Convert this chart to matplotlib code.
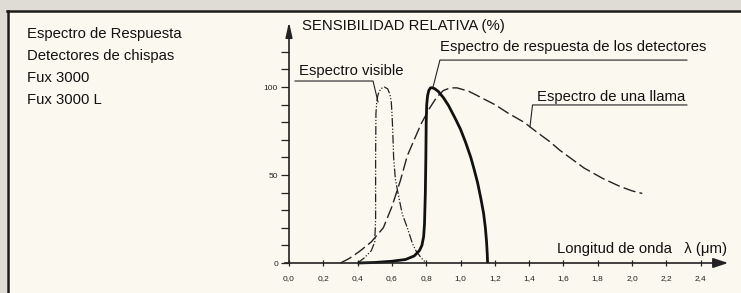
import numpy as np
import matplotlib
matplotlib.use('Agg')
import matplotlib.pyplot as plt

# curva del espectro visible
vis_x = [0.40, 0.44, 0.48, 0.50, 0.505, 0.505, 0.507, 0.512, 0.52, 0.535, 0.555, 0.575, 0.588,
         0.596, 0.60, 0.605, 0.61, 0.62, 0.635, 0.66, 0.69, 0.72, 0.74, 0.77, 0.80]
vis_y = [0, 3, 7, 12, 25, 60, 85, 92, 96, 99, 100, 99, 96,
         92, 86, 75, 60, 48, 40, 28, 20, 11, 7, 3, 0]

# espectro de respuesta de los detectores
det_x = [0.40, 0.50, 0.60, 0.68, 0.73, 0.76, 0.775, 0.785, 0.79, 0.795, 0.798, 0.80, 0.803,
         0.808, 0.815, 0.825, 0.835, 0.85, 0.87, 0.90, 0.93, 0.97, 1.00, 1.03, 1.06, 1.08,
         1.10, 1.12, 1.135, 1.145, 1.152, 1.156, 1.158]
det_y = [0, 0.3, 1, 2, 4, 7, 10, 15, 22, 40, 60, 80, 90,
         95, 98, 99.5, 99.6, 99, 97.5, 94, 89.5, 82, 76, 68.5, 60, 53,
         45.5, 36, 28, 20, 12, 5, 0]

# espectro de una llama
fl_x = [0.30, 0.35, 0.41, 0.48, 0.55, 0.60, 0.65, 0.69, 0.73, 0.77, 0.82, 0.86, 0.90, 0.94,
        0.98, 1.05, 1.11, 1.20, 1.28, 1.37, 1.45, 1.52, 1.58, 1.65, 1.72, 1.83, 1.93, 2.00, 2.06]
fl_y = [0, 2.5, 6.5, 12, 20, 32, 47, 61, 70, 79, 88, 94, 98, 99.5,
        99.5, 97.5, 94.5, 90, 85, 80, 74, 69, 64, 59, 54, 48, 43.5, 41, 39.5]

xticks = [0.0, 0.2, 0.4, 0.6, 0.8, 1.0, 1.2, 1.4, 1.6, 1.8, 2.0, 2.2, 2.4]
yticks = list(range(0, 130, 10))
ylabels_shown = [0, 50, 100]

titulo = ['Espectro de Respuesta', 'Detectores de chispas', 'Fux 3000', 'Fux 3000 L']

plt.rcParams['font.family'] = ['Liberation Sans', 'DejaVu Sans']
fs = 10.7

W, H = 741, 293
fig = plt.figure(figsize=(W / 100, H / 100), dpi=100)
fig.patch.set_facecolor('#fbf9ef')

# franja gris de fondo y marco negro
fig.patches.append(plt.Rectangle((0, 1 - 10 / H), 1, 10 / H, transform=fig.transFigure,
                                 facecolor='#dedcd4', edgecolor='none'))
fig.patches.append(plt.Rectangle((0, 0), 7 / W, 1, transform=fig.transFigure,
                                 facecolor='#dedcd4', edgecolor='none'))
fig.lines.append(plt.Line2D([7 / W, 1], [1 - 11 / H, 1 - 11 / H], transform=fig.transFigure,
                            color='#1a1a1a', lw=1.8))
fig.lines.append(plt.Line2D([8 / W, 8 / W], [0, 1 - 11 / H], transform=fig.transFigure,
                            color='#1a1a1a', lw=1.8))

for i, t in enumerate(titulo):
    fig.text(27 / W, 1 - (34 + i * 22) / H, t, fontsize=fs, va='center', ha='left', color='#111111')

# ejes: x=0 -> px 289, 171.5 px por unidad; y=0 -> px 263, 1.76 px por unidad
x0, sx = 289, 171.5
y0, sy = 263, 1.76
ax = fig.add_axes([x0 / W, (H - y0) / H, 2.6 * sx / W, 140 * sy / H])
ax.set_xlim(0, 2.6)
ax.set_ylim(0, 140)
ax.patch.set_alpha(0)
for s in ax.spines.values():
    s.set_visible(False)

ax.annotate('', xy=(2.56, 0), xytext=(-0.025, 0), annotation_clip=False,
            arrowprops=dict(arrowstyle='-|>,head_length=0.9,head_width=0.3', lw=1.2, color='#222222',
                            shrinkA=0, shrinkB=0))
ax.annotate('', xy=(0, 137), xytext=(0, 0), annotation_clip=False,
            arrowprops=dict(arrowstyle='-|>,head_length=0.9,head_width=0.2', lw=1.2, color='#222222',
                            shrinkA=0, shrinkB=0))

ax.set_xticks(xticks)
ax.set_xticklabels([('%.1f' % v).replace('.', ',') for v in xticks], fontsize=6)
ax.set_yticks(yticks)
ax.set_yticklabels([str(v) if v in ylabels_shown else '' for v in yticks], fontsize=6)
ax.tick_params(axis='x', direction='inout', length=5, width=0.9, pad=6, colors='#222222')
ax.tick_params(axis='y', direction='out', length=6, width=0.9, pad=2, colors='#222222')

ax.plot(vis_x, vis_y, color='#222222', lw=0.9, dashes=(7, 1.5, 1, 1.5, 1, 1.5), clip_on=False)
ax.plot(fl_x, fl_y, color='#222222', lw=1.0, dashes=(9, 3), clip_on=False)
ax.plot(det_x, det_y, color='#111111', lw=2.0, solid_capstyle='butt', solid_joinstyle='round',
        clip_on=False)

# etiquetas y lineas de referencia
ax.text(0.076, 134.7, 'SENSIBILIDAD RELATIVA (%)', fontsize=fs, va='center', ha='left', color='#111111')
ax.text(0.058, 109, 'Espectro visible', fontsize=fs, va='center', ha='left', color='#111111')
ax.plot([0.035, 0.49, 0.519], [103.4, 103.4, 91.5], color='#222222', lw=0.8)
ax.text(0.88, 122.7, 'Espectro de respuesta de los detectores', fontsize=fs, va='center', ha='left',
        color='#111111')
ax.plot([2.32, 0.88, 0.84], [115.3, 115.3, 100], color='#222222', lw=0.8)
ax.text(1.446, 94.3, 'Espectro de una llama', fontsize=fs, va='center', ha='left', color='#111111')
ax.plot([2.32, 1.42, 1.405], [89.8, 89.8, 77.3], color='#222222', lw=0.8)
ax.text(2.554, 8, 'Longitud de onda   \u03bb (\u03bcm)', fontsize=fs, va='center', ha='right',
        color='#111111')

fig.savefig('out.png', dpi=100, facecolor=fig.get_facecolor())
